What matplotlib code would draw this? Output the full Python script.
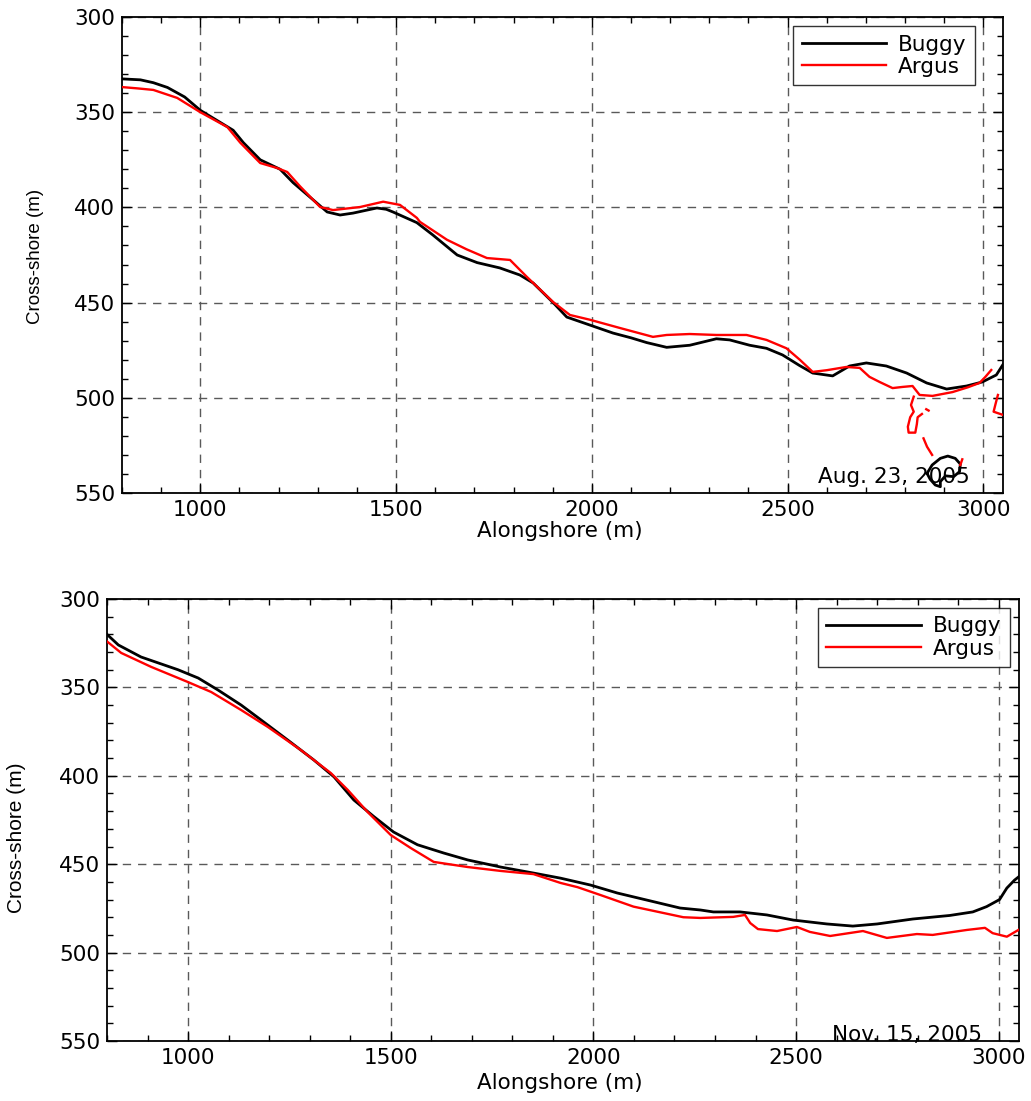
import numpy as np
import matplotlib
matplotlib.use("Agg")
import matplotlib.pyplot as plt
from matplotlib.ticker import MultipleLocator

plt.rcParams['font.family'] = ['DejaVu Sans']

nan = np.nan

# ---- Aug. 23, 2005 shorelines (alongshore m, cross-shore m); NaN breaks segments
buggy_aug_x = [800, 847, 880, 916, 960, 1000, 1040, 1084, 1110, 1153, 1204, 1237, 1288,
               1324, 1357, 1390, 1426, 1451, 1475, 1492, 1553, 1594, 1656, 1707, 1765,
               1816, 1850, 1901, 1936, 1995, 2054, 2100, 2140, 2191, 2250, 2318, 2352,
               2403, 2446, 2487, 2530, 2564, 2615, 2658, 2701, 2752, 2804, 2855, 2906,
               2957, 2997, 3033, 3050,
               nan,
               2856, 2869, 2890, 2909, 2928, 2941, 2939, 2924, 2903, 2890, 2890, 2877,
               2864, 2856]
buggy_aug_y = [332.5, 333, 334.5, 337, 342, 349, 354, 359.5, 366, 375, 380, 387, 396,
               402.4, 404, 403, 401.4, 400.3, 401, 402.4, 408, 414.5, 425, 429, 431.8,
               435.5, 439.7, 450, 457.6, 461.8, 466, 468.5, 471, 473.5, 472.4, 469, 469.6,
               472.4, 474, 477.5, 483, 487, 488.5, 483.3, 481.7, 483.3, 487, 492.2, 495.4,
               493.8, 491.7, 488, 482.5,
               nan,
               539.7, 535.3, 531.8, 530.6, 531.8, 534.8, 538.8, 541.4, 541, 544, 546.7,
               545.8, 542.8, 539.7]

argus_aug_x = [800, 840, 880, 941, 1000, 1069, 1102, 1153, 1196, 1222, 1255, 1306, 1339,
               1408, 1467, 1510, 1553, 1561, 1630, 1680, 1732, 1791, 1834, 1901, 1944,
               1995, 2071, 2156, 2191, 2250, 2318, 2395, 2446, 2497, 2531, 2564, 2600,
               2650, 2684, 2709, 2735, 2768, 2793, 2819, 2837, 2870, 2921, 2960, 2990,
               3005, 3020,
               nan,
               2822, 2815, 2822, 2813, 2807, 2809, 2826, 2830, 2832, 2843,
               nan,
               2854, 2860,
               nan,
               2847, 2856, 2869,
               nan,
               2946, 2941,
               nan,
               3037, 3031, 3026, 3043, 3050]
argus_aug_y = [336.8, 337.5, 338.3, 342.5, 350, 357.8, 366, 376.7, 379.3, 381.4, 389, 399.8,
               401.4, 399.8, 397, 398.7, 405.5, 407.6, 417, 422, 426.6, 427.6, 436.5, 449.7,
               456.5, 459, 463.3, 468, 467, 466.5, 467, 467, 469.6, 474, 480, 486.4, 485.5,
               483.8, 484.3, 489, 491.7, 494.9, 494.3, 493.8, 498.5, 499, 497, 494.5, 492.2,
               489, 485.4,
               nan,
               499.4, 503.8, 507.3, 510.2, 515.2, 518.3, 518.3, 513.8, 510.2, 508.5,
               nan,
               506, 506.7,
               nan,
               521.3, 525.7, 530,
               nan,
               532.3, 535.3,
               nan,
               498.5, 503.2, 507.3, 508.5, 509]

# ---- Nov. 15, 2005 shorelines
buggy_nov_x = [800, 828, 884, 975, 1025, 1074, 1131, 1180, 1246, 1310, 1360, 1409, 1458,
               1507, 1566, 1631, 1690, 1771, 1852, 1919, 1993, 2059, 2214, 2264, 2296,
               2362, 2428, 2493, 2576, 2640, 2700, 2788, 2879, 2936, 2970, 3002, 3020,
               3039, 3050]
buggy_nov_y = [320, 326, 332.8, 340, 344.7, 351.5, 360, 368.4, 379.8, 391, 400.6, 413.7,
               423, 431.8, 439, 443.7, 447.6, 451.6, 455, 457.9, 461.8, 466.3, 474.8,
               475.9, 477, 477, 478.7, 481.6, 483.8, 485, 483.8, 481, 479, 477, 474, 470,
               463.5, 459, 457]

argus_nov_x = [800, 835, 909, 1000, 1057, 1131, 1197, 1278, 1352, 1394, 1443, 1500, 1549,
               1606, 1690, 1771, 1852, 1919, 1961, 2017, 2099, 2222, 2264, 2345, 2374,
               2387, 2406, 2453, 2502, 2534, 2584, 2665, 2724, 2798, 2837, 2921, 2966,
               2985, 3020, 3050]
argus_nov_y = [324, 330.5, 338.4, 347, 352.6, 362.8, 372.4, 385.4, 398.4, 408, 420.5,
               433.5, 440.8, 448.7, 451.6, 453.8, 455.6, 460.6, 463, 467.4, 474, 480,
               480.4, 479.8, 478.7, 483.3, 486.7, 487.8, 485.5, 488.3, 490.6, 487.8,
               491.7, 489.5, 490, 487.2, 486, 489, 491, 487]

dates = ["Aug. 23, 2005", "Nov. 15, 2005"]
series_names = ["Buggy", "Argus"]

W, H = 1031, 1101
fig = plt.figure(figsize=(W / 100, H / 100), dpi=100)


def px_axes(left, top, right, bottom):
    return fig.add_axes([left / W, 1 - bottom / H, (right - left) / W, (bottom - top) / H])


panels = [
    dict(box=(122, 17, 1003, 493), bx=buggy_aug_x, by=buggy_aug_y,
         ax_=argus_aug_x, ay=argus_aug_y, date=dates[0], fs=15.5,
         leg=(0.968, 0.981), hl=3.9, txt=(0.9625, 0.034), ylab_fs=13.5,
         ylab_pos=(-0.098, 0.496), xlab_pos=(0.497, -0.08)),
    dict(box=(107, 599, 1019, 1041), bx=buggy_nov_x, by=buggy_nov_y,
         ax_=argus_nov_x, ay=argus_nov_y, date=dates[1], fs=15.5,
         leg=(0.990, 0.980), hl=4.4, txt=(0.959, 0.0136), ylab_fs=15,
         ylab_pos=(-0.099, 0.46), xlab_pos=(0.497, -0.095)),
]

for p in panels:
    ax = px_axes(*p['box'])
    ax.plot(p['bx'], p['by'], color='black', lw=2.0, label=series_names[0], zorder=3)
    ax.plot(p['ax_'], p['ay'], color='#ff0000', lw=1.7, label=series_names[1], zorder=4)

    ax.set_xlim(800, 3050)
    ax.set_ylim(550, 300)
    ax.xaxis.set_major_locator(MultipleLocator(500))
    ax.xaxis.set_minor_locator(MultipleLocator(100))
    ax.yaxis.set_major_locator(MultipleLocator(50))
    ax.yaxis.set_minor_locator(MultipleLocator(10))
    ax.tick_params(which='both', direction='in', top=True, right=True,
                   labelsize=p['fs'], width=1.0, colors='black', pad=5)
    ax.tick_params(which='major', length=7)
    ax.tick_params(which='minor', length=4)
    ax.grid(True, which='major', linestyle=(0, (6, 5)), color='0.35', lw=1.0)
    for s in ax.spines.values():
        s.set_linewidth(1.3)

    ax.set_xlabel("Alongshore (m)", fontsize=p['fs'], va='center')
    ax.xaxis.set_label_coords(*p['xlab_pos'])
    ax.set_ylabel("Cross-shore (m)", fontsize=p['ylab_fs'], va='center',
                  family=['Liberation Sans Narrow', 'Liberation Sans'])
    ax.yaxis.set_label_coords(*p['ylab_pos'])

    leg = ax.legend(loc='upper right', bbox_to_anchor=p['leg'], fontsize=p['fs'],
                    frameon=True, fancybox=False, edgecolor='black',
                    handlelength=p['hl'], handletextpad=0.55, borderpad=0.4,
                    labelspacing=0.1, borderaxespad=0.0)
    leg.get_frame().set_linewidth(1.0)
    leg.set_zorder(10)

    ax.text(p['txt'][0], p['txt'][1], p['date'], transform=ax.transAxes,
            ha='right', va='center', fontsize=p['fs'], zorder=2)

fig.savefig("out.png", dpi=100)
